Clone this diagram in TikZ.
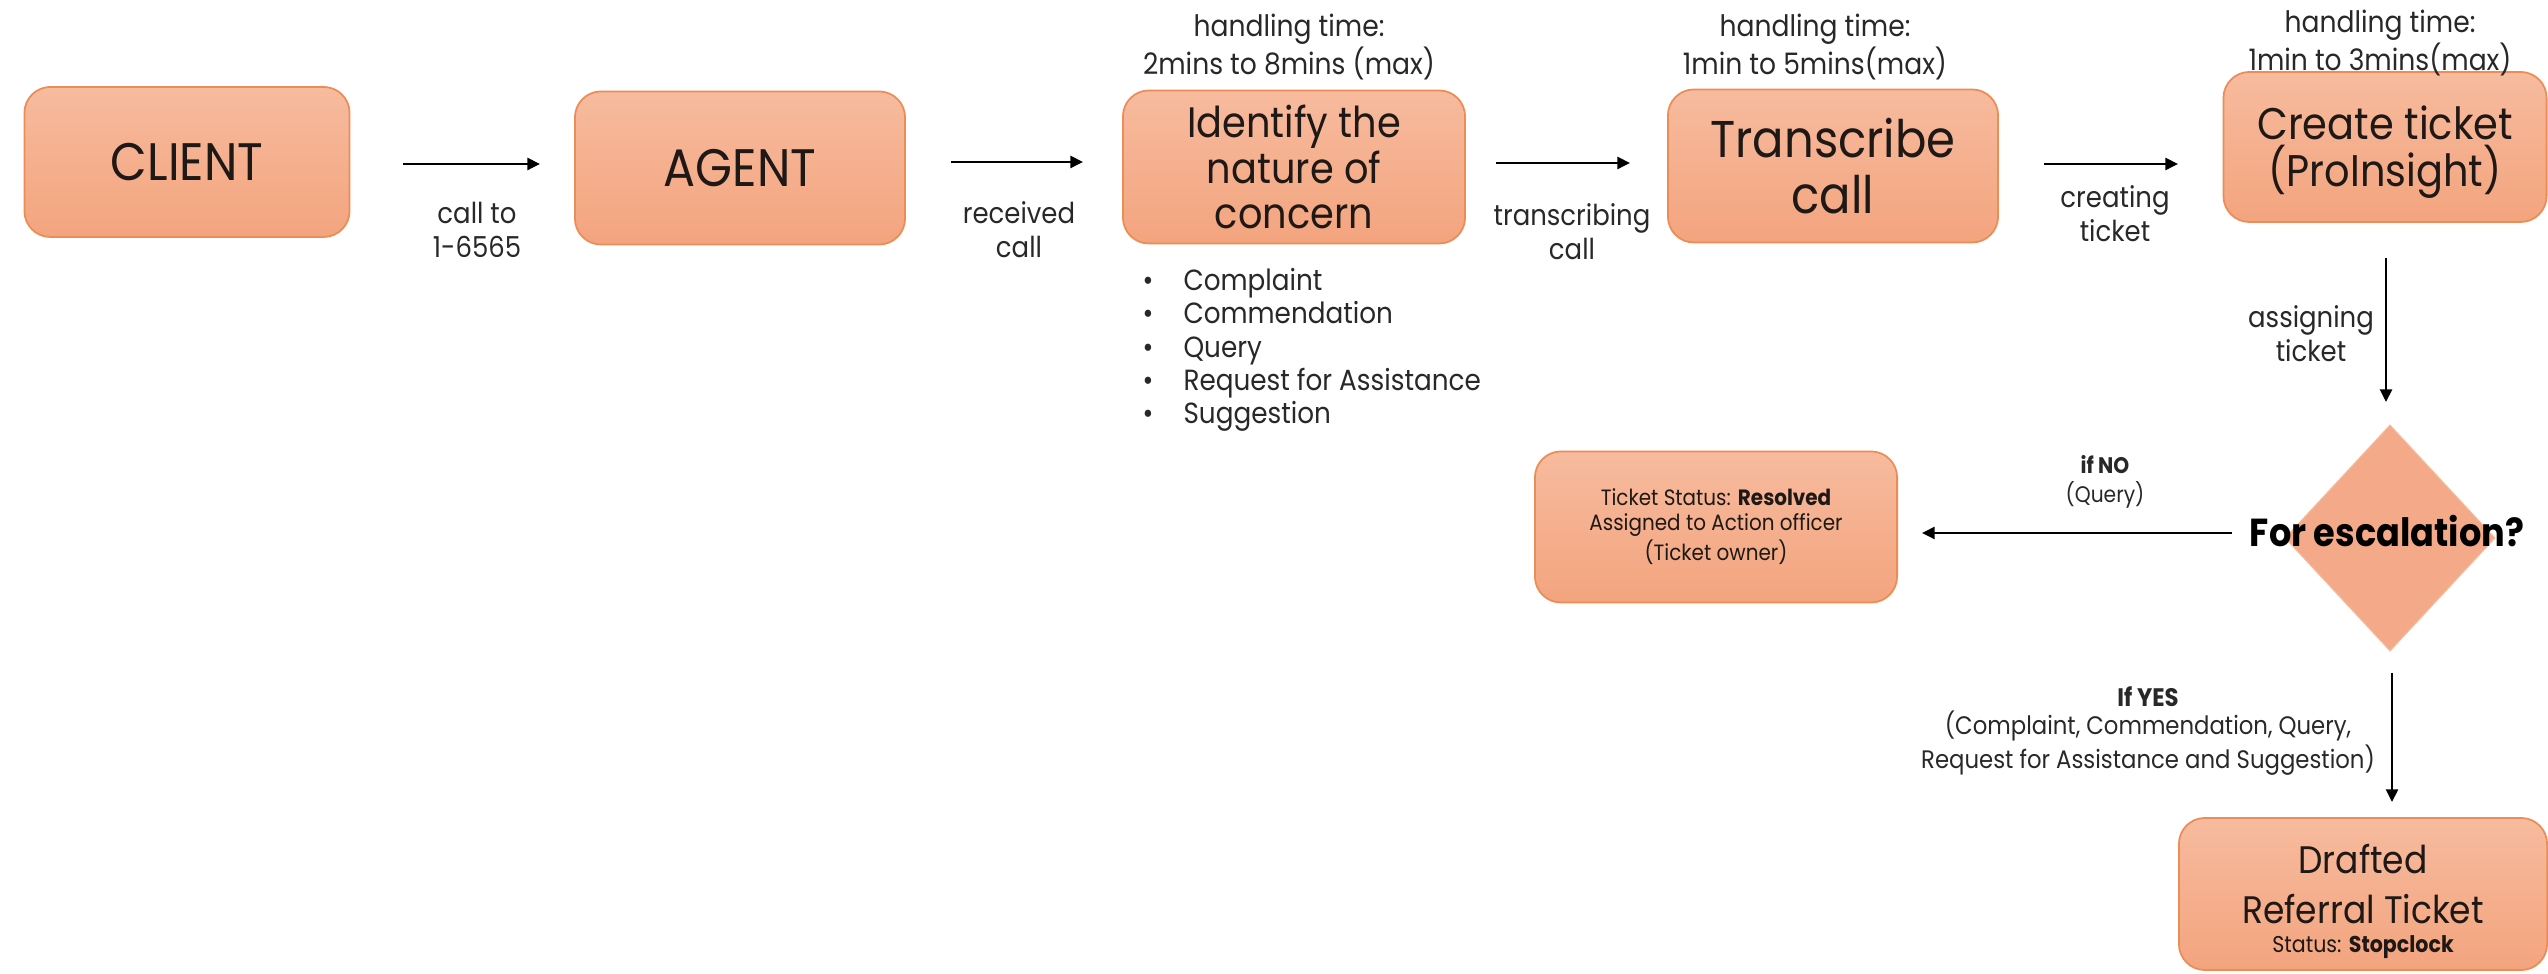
\documentclass[tikz,border=0pt]{standalone}
\usepackage{fontspec}
\setmainfont[FakeStretch=0.9]{Poppins}
\usetikzlibrary{arrows.meta,shapes.geometric}
\definecolor{boxtop}{RGB}{247,187,158}
\definecolor{boxbot}{RGB}{243,164,126}
\definecolor{boxline}{RGB}{236,140,86}
\definecolor{dia}{RGB}{244,170,136}
\definecolor{ink}{RGB}{30,24,22}
\definecolor{lab}{RGB}{40,40,40}
\tikzset{
  box/.style={draw=boxline, line width=0.5pt, rounded corners=0.26cm, top color=boxtop, bottom color=boxbot, align=center, text=ink, inner sep=0pt},
  decision/.style={diamond, draw=boxline!60, line width=0.3pt, fill=dia, inner sep=0pt, minimum width=2.10cm, minimum height=2.26cm},
  lbl/.style={align=center, text=lab, inner sep=0pt},
  conn/.style={draw=black, line width=0.75pt, -{Triangle[length=3.6pt,width=3.4pt]}},
}
\begin{document}
\begin{tikzpicture}[x=0.01cm,y=-0.01cm]
\useasboundingbox (0,0) rectangle (2548,974);
% boxes
\node[box, minimum width=3.25cm, minimum height=1.50cm, font=\fontsize{15}{17}\selectfont] (client) at (187,162) {CLIENT};
\node[box, minimum width=3.30cm, minimum height=1.53cm, font=\fontsize{15}{17}\selectfont] (agent) at (740,168) {AGENT};
\node[box, minimum width=3.42cm, minimum height=1.53cm, font=\fontsize{12.1}{12.9}\selectfont] (identify) at (1294,167) {Identify the\\nature of\\concern};
\node[box, minimum width=3.30cm, minimum height=1.53cm, font=\fontsize{14.7}{16}\selectfont] (transcribe) at (1833,166) {Transcribe\\call};
\node[box, minimum width=3.23cm, minimum height=1.50cm] (create) at (2385,147) {};
\node[text=ink, align=center, inner sep=0pt, font=\fontsize{12.6}{13.2}\selectfont] (createtext) at (2385,152) {Create ticket\\(ProInsight)};
\node[decision] (esc) at (2390,538) {};
\node[font=\fontsize{11.1}{12}\bfseries, text=black, inner sep=0pt] (esctext) at (2387,531) {For escalation?};
\node[box, minimum width=3.62cm, minimum height=1.51cm, font=\fontsize{6.3}{7.1}\selectfont] (resolved) at (1716,527) {Ticket Status: \textbf{Resolved}\\Assigned to Action officer\\(Ticket owner)};
\node[box, minimum width=3.68cm, minimum height=1.52cm] (drafted) at (2363,894) {};
\node[text=ink, align=center, inner sep=0pt, font=\fontsize{10.9}{14.2}\selectfont] (draftedtext) at (2363,884) {Drafted\\Referral Ticket};
\node[text=ink, inner sep=0pt, font=\fontsize{6.5}{7}\selectfont] (draftedstatus) at (2363,947) {Status: \textbf{Stopclock}};
% handling time labels
\node[lbl, font=\fontsize{8.4}{10.8}\selectfont] (h1) at (1289,47) {handling time:\\2mins to 8mins (max)};
\node[lbl, font=\fontsize{8.4}{10.8}\selectfont] (h2) at (1815,47) {handling time:\\1min to 5mins(max)};
\node[lbl, font=\fontsize{8.4}{10.8}\selectfont] (h3) at (2380,43) {handling time:\\1min to 3mins(max)};
% bullets
\node[lbl, align=left, anchor=west, font=\fontsize{8.3}{9.5}\selectfont] (bullets) at (1142,350) {%
\textbullet\hspace{0.3cm}Complaint\\
\textbullet\hspace{0.3cm}Commendation\\
\textbullet\hspace{0.3cm}Query\\
\textbullet\hspace{0.3cm}Request for Assistance\\
\textbullet\hspace{0.3cm}Suggestion};
% connector end points
\coordinate (a1s) at (403,164); \coordinate (a1e) at (540,164);
\coordinate (a2s) at (951,162); \coordinate (a2e) at (1083,162);
\coordinate (a3s) at (1496,163); \coordinate (a3e) at (1630,163);
\coordinate (a4s) at (2044,164); \coordinate (a4e) at (2178,164);
\coordinate (a5s) at (2386,258); \coordinate (a5e) at (2386,402);
\coordinate (a6s) at (2232,533); \coordinate (a6e) at (1922,533);
\coordinate (a7s) at (2392,673); \coordinate (a7e) at (2392,802);
\draw[conn] (a1s) -- (a1e);
\draw[conn] (a2s) -- (a2e);
\draw[conn] (a3s) -- (a3e);
\draw[conn] (a4s) -- (a4e);
\draw[conn] (a5s) -- (a5e);
\draw[conn] (a6s) -- (a6e);
\draw[conn] (a7s) -- (a7e);
% connector labels
\node[lbl, font=\fontsize{8.2}{9.6}\selectfont] (l1) at (477,230) {call to\\1-6565};
\node[lbl, font=\fontsize{8.2}{9.6}\selectfont] (l2) at (1019,230) {received\\call};
\node[lbl, font=\fontsize{8.2}{9.6}\selectfont] (l3) at (1572,232) {transcribing\\call};
\node[lbl, font=\fontsize{8.2}{9.6}\selectfont] (l4) at (2115,214) {creating\\ticket};
\node[lbl, font=\fontsize{8.2}{9.6}\selectfont] (l5) at (2311,334) {assigning\\ticket};
\node[lbl, font=\fontsize{6.4}{8.2}\selectfont] (l6) at (2105,482) {\textbf{if NO}\\(Query)};
\node[lbl, font=\fontsize{7.2}{8.1}\selectfont] (l7) at (2148,731) {\textbf{If YES}\\(Complaint, Commendation, Query,\\Request for Assistance and Suggestion)};
\end{tikzpicture}
\end{document}
